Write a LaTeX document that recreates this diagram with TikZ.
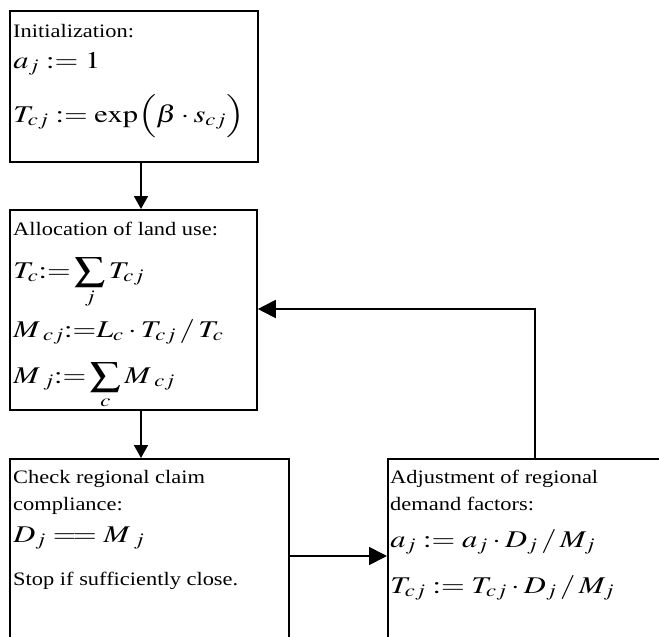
\documentclass[tikz,border=0pt]{standalone}
\usepackage{mathptmx}
\usepackage[no-math]{fontspec}
\setmainfont{Liberation Serif}
\usetikzlibrary{arrows.meta}
\tikzset{
 box/.style={draw, line width=1.8pt, rectangle, anchor=north west, inner sep=0pt},
 txt/.style={anchor=base west, inner sep=0pt, font=\fontsize{19}{22}\selectfont, xscale=1.18},
 mth/.style={anchor=base west, inner sep=0pt, font=\fontsize{24}{26}\selectfont, xscale=1.27},
 conn/.style={line width=1.8pt},
 bigarr/.style={conn, -{Triangle[length=18pt,width=18pt]}},
 smallarr/.style={conn, -{Triangle[length=13pt,width=14pt]}},
}
\begin{document}
\begin{tikzpicture}[x=1pt,y=-1pt]
\useasboundingbox (0,0) rectangle (659,637);
\clip (0,0) rectangle (659,637);
\node[box, minimum width=248pt, minimum height=151pt] (b1) at (9,10) {};
\node[box, minimum width=247pt, minimum height=200pt] (b2) at (9,209) {};
\node[box, minimum width=279pt, minimum height=230pt] (b3) at (9,458) {};
\node[box, minimum width=310pt, minimum height=230pt] (b4) at (387,458) {};
% box 1
\node[txt] (t11) at (13,37) {Initialization:};
\node[mth] (t12) at (13,68) {$a_{j} \mathrel{:=} 1$};
\node[mth] (t13) at (13,122) {$T_{cj} \mathrel{:=} \exp\Bigl(\beta\cdot s_{cj}\Bigr)$};
% box 2
\node[txt] (t21) at (13,235) {Allocation of land use:};
\node[mth] (t22) at (13,278) {$T_{c}{:=}\displaystyle\sum\limits_{j} T_{cj}$};
\node[mth] (t23) at (13,337) {$M\,{}_{cj}{:=}L_{c}\cdot T_{cj} \,/\, T_{c}$};
\node[mth] (t24) at (13,383) {$M\,{}_{j}{:=}\displaystyle\sum\limits_{c} M\,{}_{cj}$};
% box 3
\node[txt] (t31) at (13,483) {Check regional claim};
\node[txt] (t32) at (13,510) {compliance:};
\node[mth] (t33) at (13,542) {$D_{j} \mathrel{=\!=} M\,{}_{j}$};
\node[txt] (t34) at (13,585) {Stop if sufficiently close.};
% box 4
\node[txt] (t41) at (390,483) {Adjustment of regional};
\node[txt] (t42) at (390,510) {demand factors:};
\node[mth] (t43) at (390,547) {$a_{j} \mathrel{:=} a_{j}\cdot D_{j} \,/\, M_{j}$};
\node[mth] (t44) at (390,593) {$T_{cj} \mathrel{:=} T_{cj}\cdot D_{j} \,/\, M_{j}$};
% connectors
\coordinate (c1) at (141,0);
\coordinate (c2) at (0,556);
\coordinate (c3) at (535,309);
\draw[smallarr] (b1.south -| c1) -- (b2.north -| c1);
\draw[smallarr] (b2.south -| c1) -- (b3.north -| c1);
\draw[bigarr] (b3.east |- c2) -- (b4.west |- c2);
\draw[bigarr] (b4.north -| c3) -- (c3) -- (b2.east |- c3);
\end{tikzpicture}
\end{document}
